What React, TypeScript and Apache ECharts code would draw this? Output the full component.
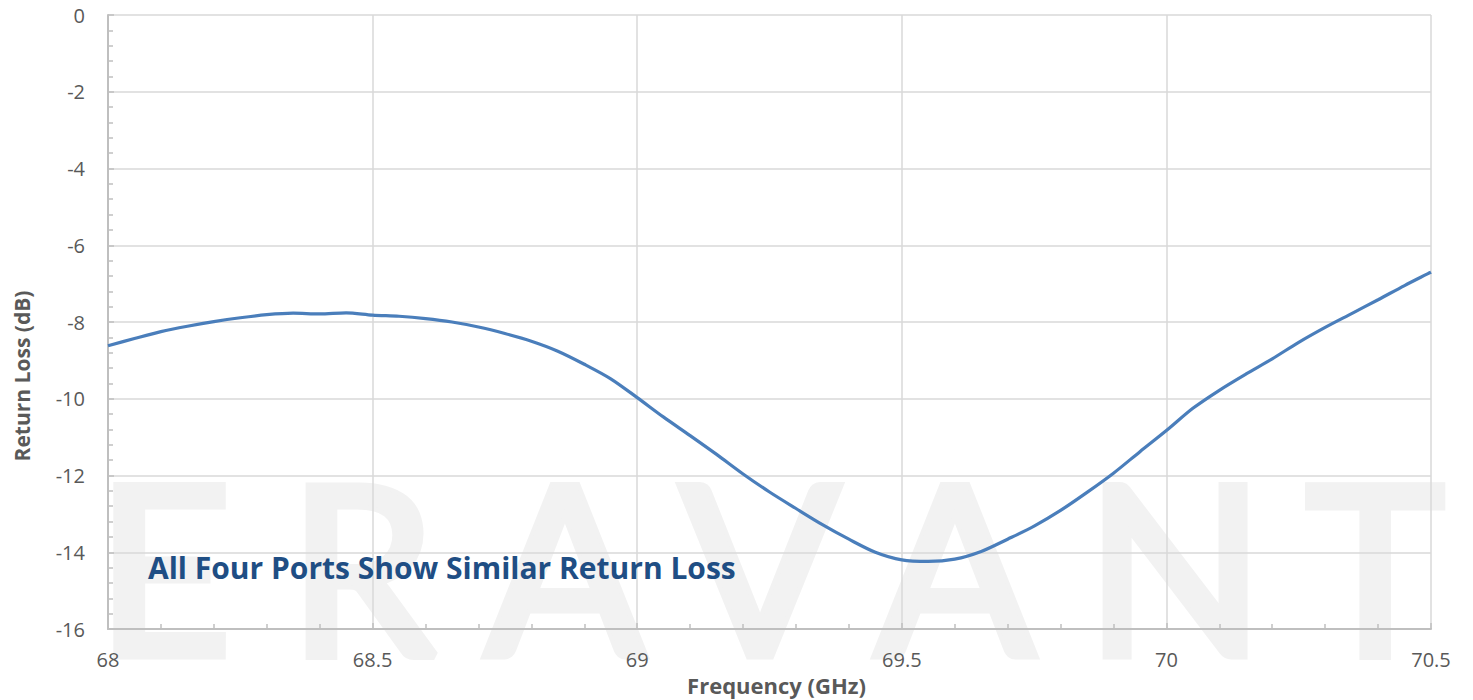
import React, { useEffect, useRef } from "react";
import * as echarts from "echarts";

const freqGHz = [
  68.0, 68.05, 68.1, 68.15, 68.2, 68.25, 68.3, 68.35, 68.4, 68.45, 68.5, 68.55, 68.6, 68.65, 68.7,
  68.75, 68.8, 68.85, 68.9, 68.95, 69.0, 69.05, 69.1, 69.15, 69.2, 69.25, 69.3, 69.35, 69.4, 69.45,
  69.5, 69.55, 69.6, 69.65, 69.7, 69.75, 69.8, 69.85, 69.9, 69.95, 70.0, 70.05, 70.1, 70.15, 70.2,
  70.25, 70.3, 70.35, 70.4, 70.45, 70.5,
];
const returnLossDb = [
  -8.62, -8.43, -8.25, -8.11, -7.99, -7.89, -7.81, -7.77, -7.79, -7.76, -7.82, -7.85, -7.91, -8.0, -8.13,
  -8.3, -8.5, -8.76, -9.1, -9.48, -9.97, -10.48, -10.96, -11.45, -11.96, -12.43, -12.86, -13.28, -13.66, -14.0,
  -14.2, -14.24, -14.18, -13.98, -13.66, -13.32, -12.91, -12.44, -11.94, -11.38, -10.83, -10.25, -9.78, -9.36, -8.96,
  -8.53, -8.14, -7.78, -7.42, -7.05, -6.7,
];
const watermarkLetters = ["E", "R", "A", "V", "A", "N", "T"];
const watermarkCenters = [164, 362, 565, 760, 955, 1175, 1375];
const annotationText = "All Four Ports Show Similar Return Loss";
const xAxisName = "Frequency (GHz)";
const yAxisName = "Return Loss (dB)";

export default function App() {
  const ref = useRef<HTMLDivElement>(null);
  useEffect(() => {
    document.body.style.margin = "0";
    const chart = echarts.init(ref.current!, null, { renderer: "svg" });
    const labelFont = "'Open Sans', Lato, sans-serif";
    const axisGrey = "#bfbfbf";
    const gridGrey = "#d9d9d9";
    const textGrey = "#595959";
    const watermark = watermarkLetters.map((ch, i) => ({
      type: "text",
      x: watermarkCenters[i],
      y: 564,
      z: -10,
      silent: true,
      style: {
        text: ch,
        fill: "#f2f2f2",
        stroke: "#f2f2f2",
        lineWidth: 9,
        font: "400 234px Lato, sans-serif",
        align: "center",
        verticalAlign: "middle",
        textAlign: "center",
        textVerticalAlign: "middle",
      },
    }));
    chart.setOption({
      animation: false,
      backgroundColor: "#ffffff",
      grid: {
        left: 108,
        right: 42,
        top: 15,
        bottom: 71,
        containLabel: false,
        outerBoundsMode: "none",
      },
      graphic: [
        ...watermark,
        {
          type: "text",
          x: 148,
          y: 567,
          z: 50,
          silent: true,
          style: {
            text: annotationText,
            fill: "#1f4e84",
            font: "700 30px 'Open Sans', sans-serif",
            align: "left",
            verticalAlign: "middle",
            textAlign: "left",
            textVerticalAlign: "middle",
          },
        },
        {
          type: "text",
          x: 22,
          y: 376,
          rotation: Math.PI / 2,
          z: 50,
          silent: true,
          style: {
            text: yAxisName,
            fill: textGrey,
            font: "700 21px 'Open Sans', sans-serif",
            align: "center",
            verticalAlign: "middle",
            textAlign: "center",
            textVerticalAlign: "middle",
          },
        },
      ],
      xAxis: {
        type: "value",
        min: 68,
        max: 70.5,
        interval: 0.5,
        name: xAxisName,
        nameLocation: "middle",
        nameGap: 44,
        nameTextStyle: {
          color: textGrey,
          fontSize: 22,
          fontWeight: "bold",
          fontFamily: labelFont,
          padding: [0, 0, 0, 14],
        },
        axisLine: { show: true, onZero: false, lineStyle: { color: axisGrey, width: 2 } },
        axisTick: { show: true, inside: true, length: 6, lineStyle: { color: axisGrey, width: 1.5 } },
        minorTick: { show: true, splitNumber: 5, length: 5, lineStyle: { color: axisGrey, width: 1.5 } },
        axisLabel: { color: textGrey, fontSize: 20, fontFamily: labelFont, margin: 20 },
        splitLine: { show: true, lineStyle: { color: gridGrey, width: 1.5 } },
      },
      yAxis: {
        type: "value",
        min: -16,
        max: 0,
        interval: 2,
        axisLine: { show: true, onZero: false, lineStyle: { color: axisGrey, width: 2 } },
        axisTick: { show: true, inside: true, length: 6, lineStyle: { color: axisGrey, width: 1.5 } },
        minorTick: { show: true, splitNumber: 5, length: 5, lineStyle: { color: axisGrey, width: 1.5 } },
        axisLabel: { color: textGrey, fontSize: 20, fontFamily: labelFont, margin: 23 },
        splitLine: { show: true, lineStyle: { color: gridGrey, width: 1.5 } },
      },
      series: [
        {
          type: "line",
          name: yAxisName,
          data: freqGHz.map((f, i) => [f, returnLossDb[i]]),
          showSymbol: false,
          smooth: 0.3,
          lineStyle: { color: "#4a7ebb", width: 3.2 },
          z: 10,
        },
      ],
    });
    return () => chart.dispose();
  }, []);
  return (
    <div
      ref={ref}
      style={{ position: "absolute", left: 0, top: 0, width: 1473, height: 700 }}
    />
  );
}
